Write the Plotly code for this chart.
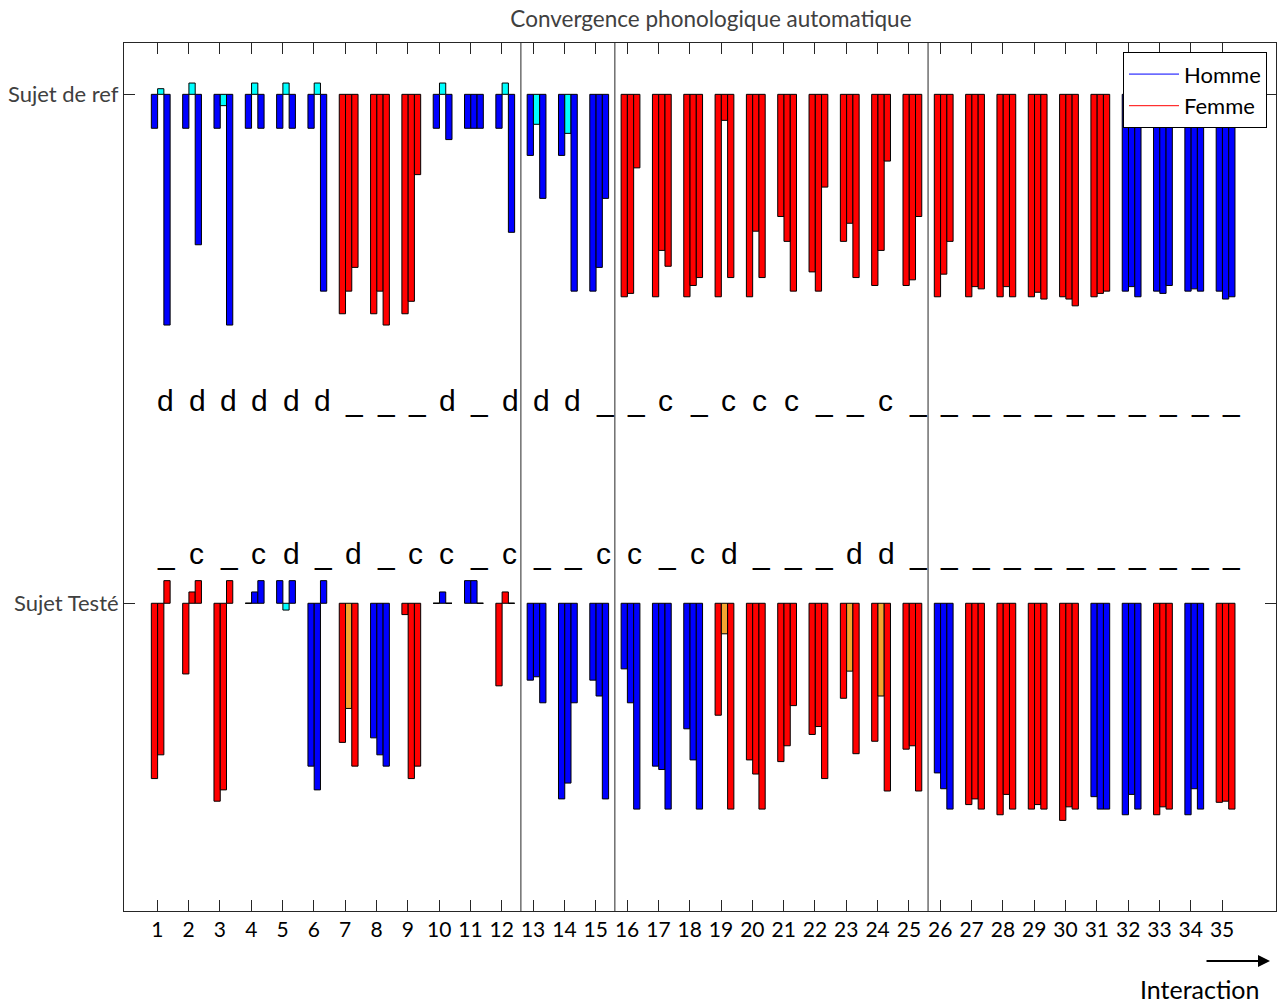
import plotly.graph_objects as go

# ---------------- data ----------------
interactions = list(range(1, 36))
tick_labels = [str(i) for i in interactions]

# "Sujet de ref" panel: three bars per interaction (negative = downward)
ref_bar1 = [-3, -3, -3, -3, -3, -3, -19.4, -19.4, -19.4, -3, -3, -3, -5.4, -5.4, -17.4,
            -17.9, -17.9, -17.9, -17.9, -17.9, -10.8, -15.7, -13.0, -16.9, -16.9,
            -17.9, -17.9, -17.9, -17.9, -17.9, -17.9, -17.4, -17.4, -17.4, -17.4]
ref_bar2 = [0.5, 1, -1, 1, 1, 1, -17.4, -17.4, -18.3, 1, -3, 1, -2.65, -3.45, -15.3,
            -17.6, -13.8, -16.9, -2.3, -12.1, -13.0, -17.4, -11.4, -13.8, -16.4,
            -15.9, -17.0, -17.0, -17.5, -18.1, -17.6, -17.0, -17.6, -17.2, -18.1]
ref_bar3 = [-20.4, -13.3, -20.4, -3, -3, -17.4, -15.3, -20.4, -7.1, -4, -3, -12.2, -9.2, -17.4, -9.2,
            -6.5, -15.2, -16.2, -16.2, -16.2, -17.4, -8.2, -16.2, -5.9, -10.8,
            -13.0, -17.2, -17.9, -18.1, -18.7, -17.4, -17.9, -16.9, -17.4, -17.9]

# "Sujet Testé" panel
test_bar1 = [-15.5, -6.25, -17.5, 0, 2, -14.4, -12.3, -11.9, -1, 0, 2, -7.3, -6.8, -17.3, -6.8,
             -5.8, -14.4, -11.1, -9.9, -13.85, -14.0, -11.6, -8.4, -12.2, -12.9,
             -15.0, -17.8, -18.7, -18.2, -19.2, -17.1, -18.7, -18.7, -18.7, -17.6]
test_bar2 = [-13.4, 1, -16.5, 1, -0.6, -16.5, -9.3, -13.4, -15.5, 1, 2, 1, -6.5, -15.9, -8.2,
             -8.8, -14.7, -13.85, -2.7, -15.1, -12.6, -10.9, -6.0, -8.2, -12.6,
             -16.4, -17.3, -16.9, -17.8, -18.0, -18.2, -16.9, -18.0, -16.4, -17.5]
test_bar3 = [2, 2, 2, 2, 2, 2, -14.4, -14.4, -14.4, 0, 0, 0, -8.8, -8.8, -17.3,
             -18.2, -18.2, -18.2, -18.2, -18.2, -9.05, -15.5, -13.3, -16.6, -16.6,
             -18.2, -18.2, -18.2, -18.2, -18.2, -18.2, -18.2, -18.2, -18.2, -18.2]

# speaker gender per interaction (H = Homme, F = Femme)
ref_gender = list("HHHHHHFFFHHHHHHFFFFFFFFFFFFFFFFHHHH")
test_gender = list("FFFHHHFHFHHFHHHHHHFFFFFFFHFFFFHHFHF")

# middle bar highlighted (lighter colour)
ref_highlight = [1, 1, 1, 1, 1, 1, 0, 0, 0, 1, 0, 1, 1, 1, 0,
                 0, 0, 0, 0, 0, 0, 0, 0, 0, 0, 0, 0, 0, 0, 0, 0, 0, 0, 0, 0]
test_highlight = [0, 0, 0, 0, 1, 0, 1, 0, 0, 0, 0, 0, 0, 0, 0,
                  0, 0, 0, 1, 0, 0, 0, 1, 1, 0, 0, 0, 0, 0, 0, 0, 0, 0, 0, 0]

# convergence labels
ref_marks = ["d", "d", "d", "d", "d", "d", "_", "_", "_", "d", "_", "d", "d", "d", "_",
             "_", "c", "_", "c", "c", "c", "_", "_", "c", "_",
             "_", "_", "_", "_", "_", "_", "_", "_", "_", "_"]
test_marks = ["_", "c", "_", "c", "d", "_", "d", "_", "c", "c", "_", "c", "_", "_", "c",
              "c", "_", "c", "d", "_", "_", "_", "d", "d", "_",
              "_", "_", "_", "_", "_", "_", "_", "_", "_", "_"]

separators = [12.5, 15.5, 25.5]
legend_names = {"H": "Homme", "F": "Femme"}

# ---------------- style ----------------
REF_BASE = 0
TEST_BASE = -45
SHIFT = 0.11
BAR_W = 0.2
COLORS = {"H": "#0000FF", "F": "#FF0000"}
LIGHT = {"H": "#00FFFF", "F": "#F5A530"}
AXC = "#262626"
FONT = "Lato"

fig = go.Figure()

ref_bars = [ref_bar1, ref_bar2, ref_bar3]
test_bars = [test_bar1, test_bar2, test_bar3]

zx, zy = [], []
for k in range(3):
    off = SHIFT - 0.3 + k * BAR_W
    vals = ref_bars[k] + test_bars[k]
    xs = interactions + interactions
    bases = [REF_BASE] * 35 + [TEST_BASE] * 35
    cols = []
    for genders, hl in ((ref_gender, ref_highlight), (test_gender, test_highlight)):
        for g, h in zip(genders, hl):
            cols.append(LIGHT[g] if (k == 1 and h) else COLORS[g])
    fig.add_trace(go.Bar(
        x=xs, y=vals, base=bases, offset=off, width=BAR_W,
        marker=dict(color=cols, line=dict(color="black", width=1)),
        showlegend=False, hoverinfo="skip"))
    for xv, v, b in zip(xs, vals, bases):
        if v == 0:
            zx += [xv + off, xv + off + BAR_W, None]
            zy += [b, b, None]

# zero-valued bars appear as flat lines
fig.add_trace(go.Scatter(x=zx, y=zy, mode="lines", line=dict(color="black", width=1),
                         showlegend=False, hoverinfo="skip"))

# legend entries
for g in ("H", "F"):
    fig.add_trace(go.Scatter(x=[None], y=[None], mode="lines", name=legend_names[g],
                             line=dict(color=COLORS[g], width=1)))

# separators
for s in separators:
    fig.add_shape(type="line", xref="x", yref="paper", x0=s + SHIFT, x1=s + SHIFT, y0=0, y1=1,
                  line=dict(color=AXC, width=1))

# convergence letters
for i, m in zip(interactions, ref_marks):
    fig.add_annotation(x=i, y=-27.1, xref="x", yref="y", text=m, showarrow=False,
                       xanchor="left", yanchor="middle", xshift=-2,
                       font=dict(family="Liberation Sans", size=30, color="black"))
for i, m in zip(interactions, test_marks):
    fig.add_annotation(x=i, y=-40.6, xref="x", yref="y", text=m, showarrow=False,
                       xanchor="left", yanchor="middle", xshift=-2,
                       font=dict(family="Liberation Sans", size=30, color="black"))

# axis caption and arrow
fig.add_annotation(x=0.934, y=-0.0895, xref="paper", yref="paper", text="Interaction",
                   showarrow=False, xanchor="center", yanchor="middle",
                   font=dict(family=FONT, size=25, color="black"))
fig.add_annotation(x=0.9948, y=-0.0576, xref="paper", yref="paper", text="",
                   showarrow=True, ax=-65, ay=0, arrowhead=2, arrowsize=1.2,
                   arrowwidth=2, arrowcolor="black")

fig.update_layout(
    width=1278, height=1003,
    margin=dict(l=124, r=2, t=43, b=92),
    paper_bgcolor="white", plot_bgcolor="white",
    barmode="overlay",
    title=dict(text="Convergence phonologique automatique", x=0.5095, xref="paper",
               y=1 - 19 / 1003, yref="container", xanchor="center", yanchor="middle",
               font=dict(family=FONT, size=22.5, color="#404040")),
    xaxis=dict(range=[-0.063, 36.72], tickvals=interactions, ticktext=tick_labels,
               showgrid=False, zeroline=False, showline=True, linecolor=AXC, linewidth=1,
               mirror="ticks", ticks="inside", ticklen=11, tickcolor=AXC,
               tickfont=dict(family=FONT, size=21, color="black")),
    yaxis=dict(range=[-72.21, 4.54], tickvals=[REF_BASE, TEST_BASE],
               ticktext=["Sujet de ref", "Sujet Testé"],
               showgrid=False, zeroline=False, showline=True, linecolor=AXC, linewidth=1,
               mirror="ticks", ticks="inside", ticklen=11, tickcolor=AXC,
               tickfont=dict(family=FONT, size=22, color="#404040")),
    legend=dict(x=0.9922, y=0.9893, xanchor="right", yanchor="top", itemwidth=50,
                bgcolor="white", bordercolor="black", borderwidth=1,
                font=dict(family=FONT, size=22, color="black")),
)

fig.write_html("out.html", config={"displayModeBar": False},
               post_script="document.body.style.margin='0';")
